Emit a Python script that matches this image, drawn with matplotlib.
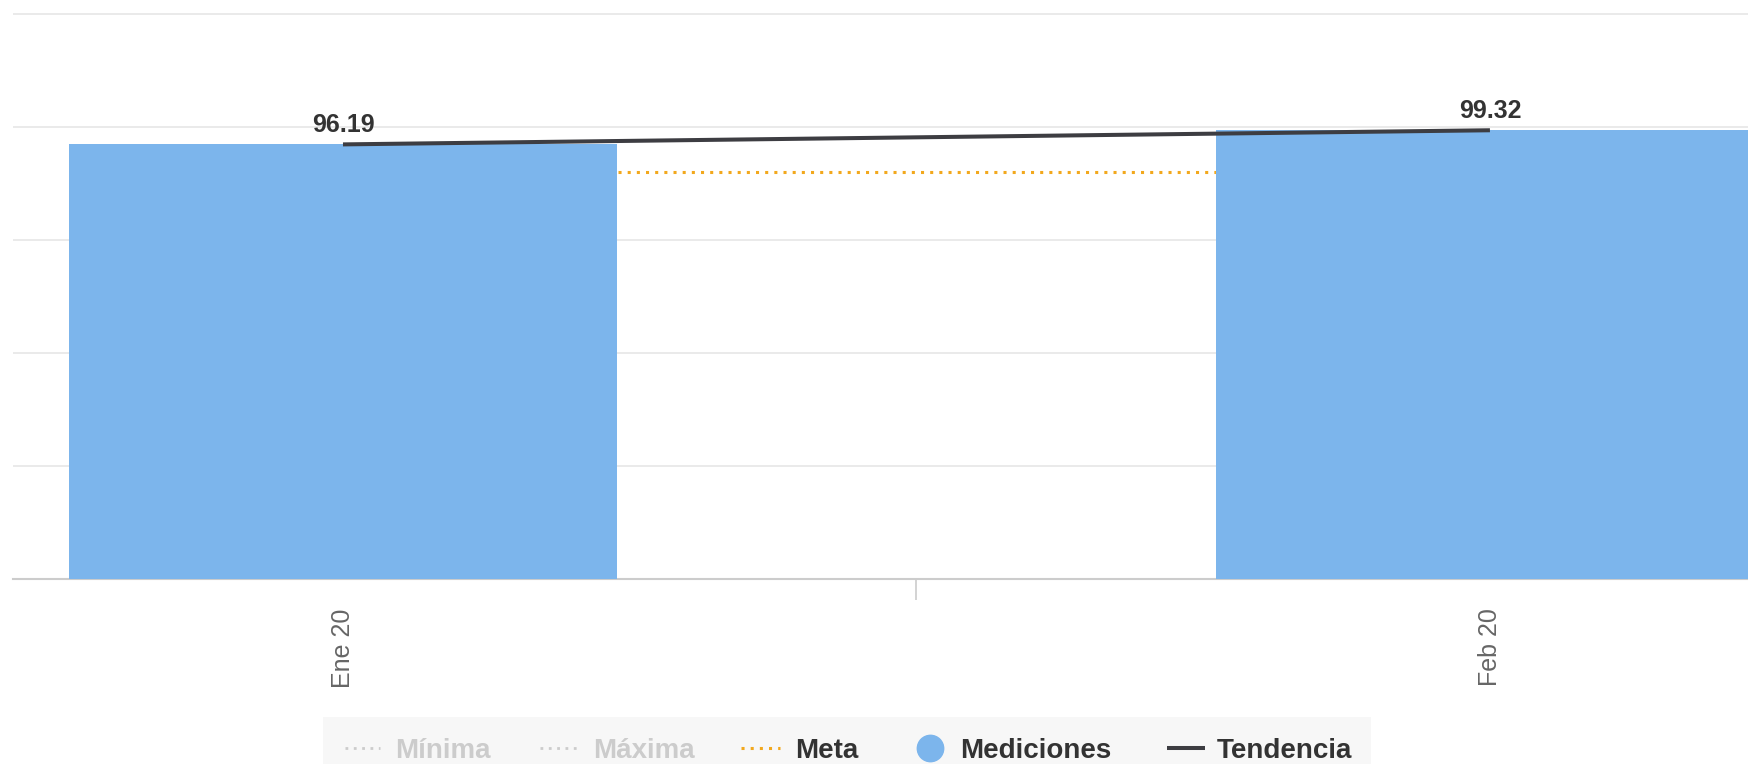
import matplotlib
matplotlib.use("Agg")
import matplotlib.pyplot as plt
from matplotlib.lines import Line2D
from matplotlib.patches import Rectangle

# monthly measurements against the goal
categories = ["Ene 20", "Feb 20"]
mediciones = [96.19, 99.32]
meta = [90, 90]
tendencia = [96.19, 99.32]

legend_items = ["Mínima", "Máxima", "Meta", "Mediciones", "Tendencia"]

W, H = 1748, 764
BAR_COLOR = "#7cb5ec"
TREND_COLOR = "#3d3d42"
META_COLOR = "#f2a81d"
GRID_COLOR = "#e6e6e6"
AXIS_COLOR = "#cccccc"
HIDDEN_COLOR = "#cccccc"
TEXT_COLOR = "#333333"

plt.rcParams["font.family"] = ["Liberation Sans", "DejaVu Sans"]

fig = plt.figure(figsize=(W / 100, H / 100), dpi=100)
# plot area runs off the right edge of the image
ax = fig.add_axes([13 / W, 185 / H, (W - 13) / W, 572 / H])

x = list(range(len(categories)))

ax.plot(x, meta, color=META_COLOR, linewidth=2.2,
        linestyle=(0, (1, 2.0)), dash_capstyle="butt", zorder=2)
ax.bar(x, mediciones, width=0.477, color=BAR_COLOR, zorder=3)
ax.plot(x, tendencia, color=TREND_COLOR, linewidth=2.9,
        solid_capstyle="butt", zorder=4)

for xi, v in zip(x, tendencia):
    ax.annotate(f"{v:.2f}", (xi, v), xytext=(0, 9), textcoords="offset points",
                ha="center", va="baseline", fontsize=18, fontweight="bold",
                color=TEXT_COLOR, zorder=5)

ax.set_xlim(-0.2877, 1.225)
ax.set_ylim(0, 126.6)
ax.set_yticks([0, 25, 50, 75, 100, 125])
ax.yaxis.grid(True, color=GRID_COLOR, linewidth=1.2)
ax.set_axisbelow(True)
ax.tick_params(axis="y", length=0, labelleft=False)

ax.set_xticks(x)
ax.set_xticklabels(categories, rotation=90, fontsize=18, color="#666666")
ax.tick_params(axis="x", which="major", length=0, pad=21)
ax.set_xticks([0.5], minor=True)
ax.tick_params(axis="x", which="minor", length=15, width=1.2, color=AXIS_COLOR)

for side in ["top", "right", "left"]:
    ax.spines[side].set_visible(False)
ax.spines["bottom"].set_color(AXIS_COLOR)
ax.spines["bottom"].set_linewidth(1.5)
ax.spines["bottom"].set_zorder(1)


def fx(px):
    return px / W


def fy(py):
    return 1 - py / H


# legend strip along the bottom
fig.patches.append(Rectangle((fx(323), 0), fx(1371) - fx(323), fy(717),
                             transform=fig.transFigure, facecolor="#f7f7f7",
                             edgecolor="none", zorder=0))

ly = fy(748)
sym_x = [(345, 380), (540, 578), (741, 780), None, (1167, 1205)]
text_x = [395, 593, 795, 960, 1217]
sym_style = [
    dict(color=HIDDEN_COLOR, linestyle=(0, (1, 2)), linewidth=2),
    dict(color=HIDDEN_COLOR, linestyle=(0, (1, 2)), linewidth=2),
    dict(color=META_COLOR, linestyle=(0, (1, 2)), linewidth=2.2),
    None,
    dict(color=TREND_COLOR, linestyle="-", linewidth=2.9),
]
text_colors = [HIDDEN_COLOR, HIDDEN_COLOR, TEXT_COLOR, TEXT_COLOR, TEXT_COLOR]

for label, sx, tx, style, tc in zip(legend_items, sym_x, text_x, sym_style, text_colors):
    if sx is None:
        fig.add_artist(Line2D([fx(930)], [ly], marker="o", markersize=19,
                              color=BAR_COLOR, linestyle="none",
                              transform=fig.transFigure))
    else:
        fig.add_artist(Line2D([fx(sx[0]), fx(sx[1])], [ly, ly],
                              transform=fig.transFigure, dash_capstyle="butt",
                              solid_capstyle="butt", **style))
    fig.text(fx(tx), ly, label, ha="left", va="center_baseline", fontsize=20,
             fontweight="bold", color=tc)

fig.savefig("out.png", dpi=100, facecolor="white")
